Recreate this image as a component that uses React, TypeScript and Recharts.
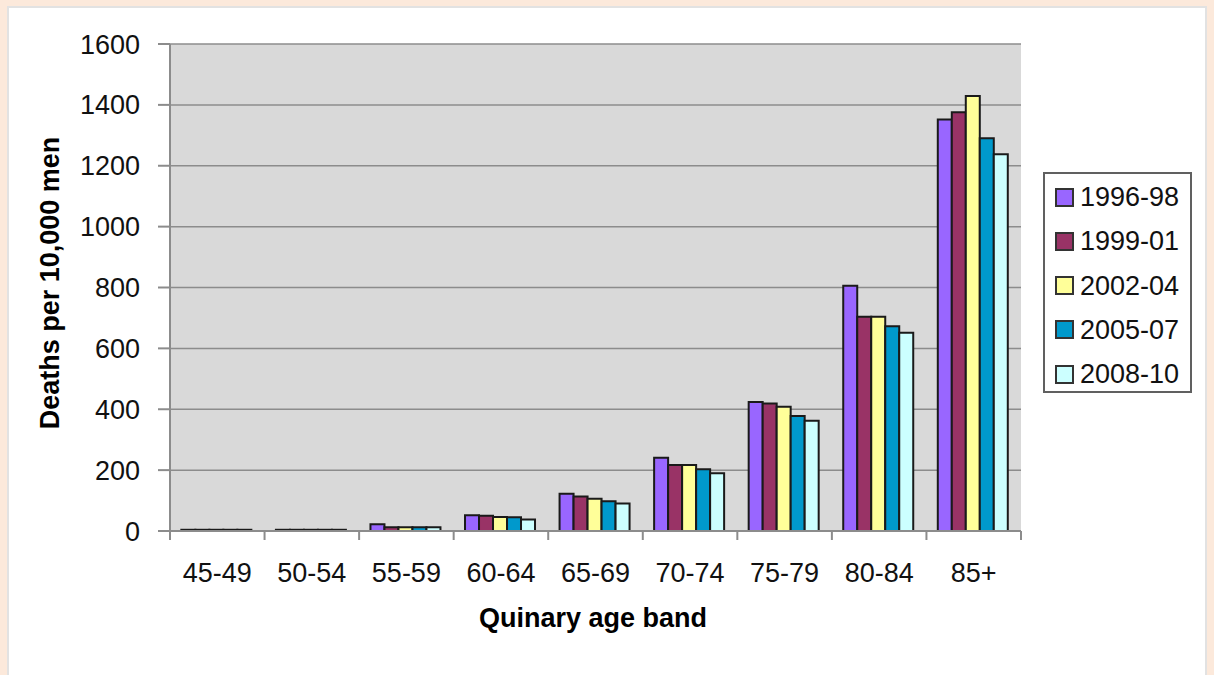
import React from 'react';
import { BarChart, Bar, XAxis, YAxis, CartesianGrid, Label } from 'recharts';

const categories = ['45-49', '50-54', '55-59', '60-64', '65-69', '70-74', '75-79', '80-84', '85+'];
const seriesNames = ['1996-98', '1999-01', '2002-04', '2005-07', '2008-10'];
const s199698 = [4, 4, 22, 52, 122, 241, 424, 806, 1352];
const s199901 = [4, 4, 12, 50, 113, 217, 419, 704, 1376];
const s200204 = [4, 4, 12, 46, 106, 217, 408, 704, 1429];
const s200507 = [4, 4, 12, 45, 98, 203, 378, 673, 1290];
const s200810 = [4, 4, 12, 38, 90, 190, 362, 651, 1238];
const seriesValues = [s199698, s199901, s200204, s200507, s200810];
const yTicks = [0, 200, 400, 600, 800, 1000, 1200, 1400, 1600];
const colors = ['#9966FF', '#993366', '#FFFF99', '#0099CC', '#CCFFFF'];

const data = categories.map((c, i) => {
  const row: Record<string, string | number> = { cat: c };
  seriesNames.forEach((s, k) => {
    row[s] = seriesValues[k][i];
  });
  return row;
});

const W = 1214;
const H = 675;
const M = { top: 44, right: 193, left: 30, bottom: 84 };
const YW = 140;
const PLOT_LEFT = M.left + YW;
const PLOT_RIGHT = W - M.right;
const PLOT_BOTTOM = 531;
const BAND = (PLOT_RIGHT - PLOT_LEFT) / categories.length;
const FONT = '"Liberation Sans", Arial, sans-serif';
const TEXT = '#111111';

function XTick(props: any) {
  const { x, y, payload, index } = props;
  const left = x - BAND / 2;
  const right = x + BAND / 2;
  return (
    <g>
      <line x1={left} x2={left} y1={PLOT_BOTTOM} y2={PLOT_BOTTOM + 9} stroke="#8c8c8c" strokeWidth={2} />
      {index === categories.length - 1 && (
        <line x1={right} x2={right} y1={PLOT_BOTTOM} y2={PLOT_BOTTOM + 9} stroke="#8c8c8c" strokeWidth={2} />
      )}
      <text x={x} y={y} dy="0.71em" textAnchor="middle" fontSize={27} fill={TEXT} fontFamily={FONT}>
        {payload.value}
      </text>
    </g>
  );
}

export default function App() {
  return (
    <div style={{ position: 'fixed', left: 0, top: 0, width: W, height: H, background: '#FCE9DB', overflow: 'hidden', fontFamily: FONT }}>
      <div style={{ position: 'absolute', left: 7, top: 6, width: 1196, height: 720, background: '#ffffff', border: '2px solid #e2e2e2' }} />
      <div style={{ position: 'absolute', left: 0, top: 0 }}>
        <BarChart width={W} height={H} data={data} margin={M} barCategoryGap="12%" barGap={0}>
          <CartesianGrid fill="#D9D9D9" vertical={false} stroke="#8c8c8c" strokeWidth={1.5} />
          <XAxis
            dataKey="cat"
            height={60}
            tickLine={false}
            tickSize={8}
            tickMargin={24}
            axisLine={{ stroke: '#8c8c8c', strokeWidth: 2 }}
            tick={<XTick />}
            interval={0}
          >
            <Label
              content={() => (
                <text x={593} y={618} textAnchor="middle" dominantBaseline="central" fontSize={27} fontWeight="bold" fill="#000" fontFamily={FONT}>
                  Quinary age band
                </text>
              )}
            />
          </XAxis>
          <YAxis
            width={YW}
            domain={[0, 1600]}
            ticks={yTicks}
            interval={0}
            tickSize={12}
            tickMargin={18}
            tickLine={{ stroke: '#8c8c8c', strokeWidth: 2 }}
            axisLine={{ stroke: '#8c8c8c', strokeWidth: 2 }}
            tick={{ fontSize: 27, fill: TEXT, fontFamily: FONT }}
          >
            <Label
              content={() => (
                <text x={50} y={283} transform="rotate(-90 50 283)" textAnchor="middle" dominantBaseline="central" fontSize={27} fontWeight="bold" fill="#000" fontFamily={FONT}>
                  Deaths per 10,000 men
                </text>
              )}
            />
          </YAxis>
          {seriesNames.map((s, k) => (
            <Bar key={s} dataKey={s} fill={colors[k]} stroke="#1a1a1a" strokeWidth={2} isAnimationActive={false} />
          ))}
        </BarChart>
      </div>
      <div style={{ position: 'absolute', left: 1043, top: 172, width: 145, height: 217, border: '2px solid #606060', background: '#fff' }}>
        {seriesNames.map((s, k) => (
          <div key={s} style={{ position: 'absolute', left: 0, top: 1 + k * 44.3, height: 44, display: 'flex', alignItems: 'center' }}>
            <div style={{ marginLeft: 10, width: 15, height: 15, background: colors[k], border: '2px solid #333' }} />
            <span style={{ marginLeft: 6, fontSize: 27, color: TEXT, lineHeight: '44px' }}>{s}</span>
          </div>
        ))}
      </div>
    </div>
  );
}
